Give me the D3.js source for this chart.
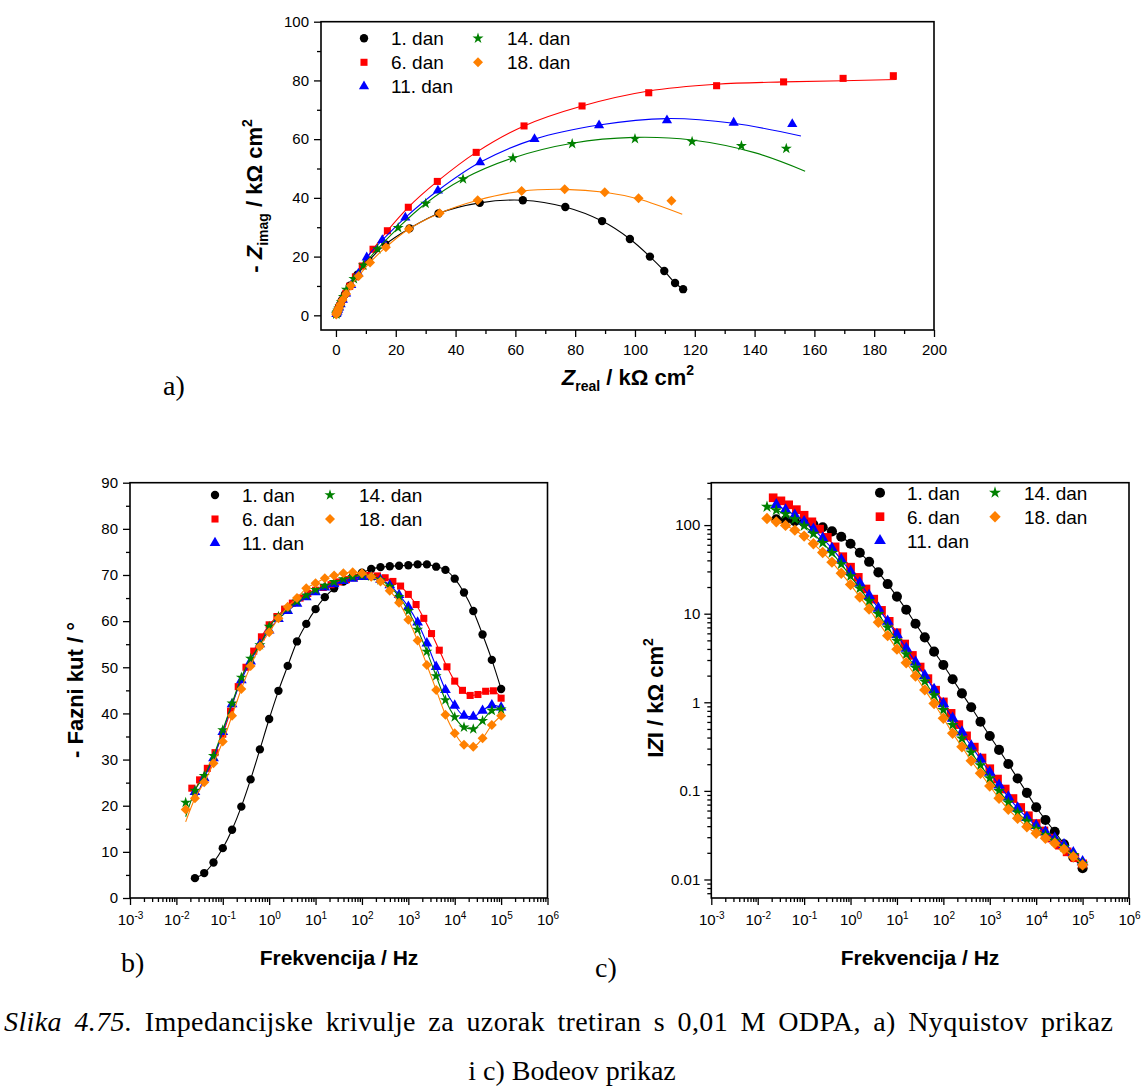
<!DOCTYPE html>
<html><head><meta charset="utf-8">
<script src="https://cdn.jsdelivr.net/npm/d3@7"></script>
<style>body{margin:0;background:#fff}</style>
</head><body><svg id="c" width="1141" height="1091" style="display:block;background:#fff"></svg>
<script>
// ---------- series ----------
const dayLabels = ["1. dan","6. dan","11. dan","14. dan","18. dan"];
const dayColors = ["#000000","#ff0000","#0000ff","#008000","#ff8000"];
const daySymbols = ["circle","square","triangle","star","diamond"];

// ---------- a) Nyquist: markers [Z_real, -Z_imag] (kΩ cm²) ----------
const nyq1 = [[0.13,0.40],[0.19,0.57],[0.27,0.84],[0.40,1.19],[0.58,1.72],[0.88,2.49],[1.29,3.50],[1.97,5.04],[3.0,7.09],[4.65,10.08],[7.18,13.85],[11.0,18.6],[16.55,24.18],[24.6,29.6],[34.3,34.7],[48.1,38.3],[62.5,39.2],[76.7,36.9],[89.0,32.1],[98.3,26.0],[105.0,20.0],[109.8,15.1],[113.4,11.0],[116.1,8.9]];
const nyq6 = [[0.18,0.5],[0.25,0.7],[0.35,0.95],[0.48,1.28],[0.66,1.73],[0.92,2.33],[1.27,3.13],[1.75,4.2],[2.41,5.6],[3.33,7.5],[4.6,9.9],[6.5,13.1],[8.8,16.8],[12.4,22.5],[17.2,28.8],[24.2,36.8],[33.9,45.6],[46.9,55.5],[62.9,64.5],[82.3,71.3],[104.6,75.8],[127.3,78.2],[149.7,79.5],[169.6,80.7],[186.4,81.6]];
const nyq11 = [[0.15,0.4],[0.33,0.9],[0.49,1.3],[0.72,1.86],[1.06,2.65],[1.56,3.74],[2.3,5.3],[3.4,7.4],[5.1,10.3],[7.5,14.2],[10.3,19.7],[15.5,25.6],[23.2,33.3],[34.1,42.5],[48.2,52.1],[66.4,60.0],[88.0,64.7],[110.7,66.4],[133.0,65.6],[152.6,65.1]];
const nyq14 = [[0.12,0.35],[0.28,0.77],[0.42,1.13],[0.62,1.61],[0.9,2.29],[1.32,3.22],[1.8,4.5],[2.5,6.3],[3.5,8.8],[6.0,12.4],[9.2,17.0],[13.9,22.6],[20.8,29.8],[30.0,38.1],[42.5,46.4],[59.2,53.6],[79.0,58.4],[100.0,60.1],[119.1,59.2],[135.6,57.7],[150.6,56.8]];
const nyq18 = [[0.1,0.3],[0.22,0.62],[0.32,0.91],[0.46,1.3],[0.68,1.86],[0.99,2.62],[1.48,3.7],[2.2,5.2],[3.4,7.25],[5.0,10.1],[7.6,13.4],[11.4,18.0],[16.7,23.2],[24.4,29.4],[34.7,34.8],[47.4,39.2],[62.1,42.3],[76.5,42.9],[89.9,41.9],[101.2,39.9],[112.2,39.0]];
// fitted-curve tails (low-frequency end of the fit lines)
const nyqFit1 = [[116.1,8.9]];
const nyqFit6 = [[104.6,76.4],[127.3,78.7],[149.7,79.5],[169.6,79.9],[187.5,80.3]];
const nyqFit11 = [[88.0,64.8],[110.7,67.0],[133.0,65.4],[155.5,61.1]];
const nyqFit14 = [[79.0,58.6],[99.6,60.6],[119.1,59.7],[140.0,55.4],[156.9,49.1]];
const nyqFit18 = [[76.5,42.9],[89.9,41.9],[101.2,39.6],[115.8,34.4]];
const nyqTicksX = [0,20,40,60,80,100,120,140,160,180,200];
const nyqMinorX = [10,30,50,70,90,110,130,150,170,190];
const nyqTicksY = [0,20,40,60,80,100];
const nyqMinorY = [10,30,50,70,90];

// ---------- b), c) Bode: log10(f / Hz) at which points were read ----------
const logF1 = [-1.6,-1.4,-1.2,-1.0,-0.8,-0.6,-0.4,-0.2,0,0.2,0.4,0.6,0.8,1.0,1.2,1.4,1.6,1.8,2.0,2.2,2.4,2.6,2.8,3.0,3.2,3.4,3.6,3.8,4.0,4.2,4.4,4.6,4.8,5.0];
const logF6 = [-1.667,-1.5,-1.333,-1.167,-1.0,-0.833,-0.667,-0.5,-0.333,-0.167,0,0.167,0.333,0.5,0.667,0.833,1.0,1.167,1.333,1.5,1.667,1.833,2.0,2.167,2.333,2.5,2.667,2.833,3.0,3.167,3.333,3.5,3.667,3.833,4.0,4.167,4.333,4.5,4.667,4.833,5.0];
const logF11 = [-1.6,-1.4,-1.2,-1.0,-0.8,-0.6,-0.4,-0.2,0,0.2,0.4,0.6,0.8,1.0,1.2,1.4,1.6,1.8,2.0,2.2,2.4,2.6,2.8,3.0,3.2,3.4,3.6,3.8,4.0,4.2,4.4,4.6,4.8,5.0];
const logF14 = [-1.8,-1.6,-1.4,-1.2,-1.0,-0.8,-0.6,-0.4,-0.2,0,0.2,0.4,0.6,0.8,1.0,1.2,1.4,1.6,1.8,2.0,2.2,2.4,2.6,2.8,3.0,3.2,3.4,3.6,3.8,4.0,4.2,4.4,4.6,4.8,5.0];
const logF18 = [-1.8,-1.6,-1.4,-1.2,-1.0,-0.8,-0.6,-0.4,-0.2,0,0.2,0.4,0.6,0.8,1.0,1.2,1.4,1.6,1.8,2.0,2.2,2.4,2.6,2.8,3.0,3.2,3.4,3.6,3.8,4.0,4.2,4.4,4.6,4.8,5.0];

// - phase angle (°)
const phase1 = [4.3,5.4,7.7,10.8,14.8,19.8,25.7,32.2,38.8,44.9,50.3,55.6,59.4,62.6,65.2,67.1,68.6,69.7,70.5,71.3,71.7,71.9,72.0,72.1,72.3,72.3,71.8,71.1,69.2,66.2,62.2,57.1,51.6,45.3];
const phase6 = [23.8,25.6,28.1,31.5,35.5,40.5,45.8,50.0,53.5,56.6,59.2,61.0,62.6,63.9,65.0,66.0,66.7,67.3,67.9,68.5,69.0,69.4,69.7,69.9,69.8,69.4,68.6,67.6,65.8,63.6,60.6,57.3,53.7,50.1,47.0,45.0,43.9,44.1,44.8,44.9,43.3];
const phase11 = [23.0,26.0,30.3,36.0,42.0,47.2,51.3,55.0,58.0,60.5,62.2,63.8,65.2,66.3,67.3,68.0,68.7,69.2,69.6,69.6,69.0,67.8,65.7,63.1,59.7,55.2,50.1,45.1,41.7,39.5,39.3,40.6,41.8,41.3];
const phase14 = [20.7,23.3,26.5,30.8,36.4,42.2,47.8,51.9,54.8,58.8,61.0,62.8,64.3,65.6,66.8,67.7,68.5,69.1,69.6,69.9,69.7,68.9,67.5,65.3,62.2,58.2,53.4,48.1,42.9,39.2,37.0,36.6,38.4,40.6,40.9];
const phase18 = [19.2,21.6,25.1,29.2,33.9,39.5,45.3,50.3,54.5,57.6,60.6,63.1,65.0,67.1,68.2,69.3,69.9,70.4,70.6,70.4,69.6,68.6,66.6,64.0,60.3,55.8,50.5,45.1,39.7,35.7,33.2,32.8,34.6,37.5,39.5];
// value of the fitted line at the lowest frequency
const phaseFitStart = [4.3,21.0,21.0,17.6,16.5];
const phaseTicksY = [0,10,20,30,40,50,60,70,80,90];
const phaseMinorY = [5,15,25,35,45,55,65,75,85];

// |Z| (kΩ cm²)
const zmod1 = [116.4,113.9,110.8,106.9,101.7,94.6,85.0,73.8,61.5,48.8,38.5,29.3,21.6,15.6,11.1,7.7,5.41,3.73,2.64,1.82,1.26,0.879,0.604,0.417,0.290,0.201,0.138,0.095,0.0653,0.047,0.0346,0.025,0.0178,0.0134];
const zmod6 = [203.5,187.8,169.5,149.4,129.2,108.9,90.1,72.7,56.8,44.0,33.5,25.7,19.0,14.6,10.9,8.2,6.1,4.55,3.38,2.50,1.85,1.37,1.01,0.75,0.56,0.418,0.312,0.235,0.178,0.136,0.105,0.082,0.065,0.0524,0.0428,0.0353,0.0293,0.0244,0.0205,0.0176,0.0150];
const zmod11 = [170,148.3,129.1,109.2,89.5,71.0,54.5,40.6,29.9,22.2,16.0,11.5,8.2,5.8,4.05,2.85,2.0,1.39,0.96,0.66,0.46,0.32,0.228,0.162,0.116,0.085,0.064,0.050,0.0405,0.0342,0.0292,0.0246,0.0200,0.0158];
const zmod14 = [161,147.4,133,116.7,98.2,79.9,62.9,48.5,36.3,26.5,19.3,13.9,9.9,7.0,4.95,3.48,2.46,1.72,1.20,0.82,0.555,0.39,0.272,0.195,0.139,0.100,0.074,0.057,0.0455,0.0372,0.0318,0.0274,0.0232,0.0189,0.0151];
const zmod18 = [118.8,108.8,99.2,87.7,75.1,61.5,49.1,38.2,28.6,21.3,15.4,11.3,8.0,5.65,3.98,2.80,1.98,1.38,0.97,0.66,0.447,0.315,0.219,0.158,0.1135,0.0825,0.0619,0.049,0.0394,0.0332,0.0292,0.0256,0.0219,0.0181,0.0146];
const zTicksY = [0.01,0.1,1,10,100];
const zTickLabelsY = ["0.01","0.1","1","10","100"];
const freqTicks = [1e-3,1e-2,1e-1,1e0,1e1,1e2,1e3,1e4,1e5,1e6];

// ---------- helpers ----------
const FONT = "'Liberation Sans', Arial, Helvetica, sans-serif";
const SERIF = "'Liberation Serif', 'Times New Roman', serif";
const svg = d3.select("#c");

const nyqSets = [nyq1,nyq6,nyq11,nyq14,nyq18];
const nyqFits = [nyqFit1,nyqFit6,nyqFit11,nyqFit14,nyqFit18];
const logFs = [logF1,logF6,logF11,logF14,logF18];
const phases = [phase1,phase6,phase11,phase14,phase18];
const zmods = [zmod1,zmod6,zmod11,zmod14,zmod18];

function symPath(i, size){
  const t = {circle:d3.symbolCircle,square:d3.symbolSquare,triangle:d3.symbolTriangle,star:d3.symbolStar,diamond:d3.symbolSquare}[daySymbols[i]];
  return d3.symbol(t, size)();
}
function symRot(i){ return daySymbols[i]==="diamond" ? " rotate(45)" : ""; }

function styleAxis(sel, fs){
  sel.select(".domain").remove();
  sel.selectAll("line").attr("stroke","#000").attr("stroke-width",1.3);
  sel.selectAll("text").attr("font-family",FONT).attr("font-size",fs||15).attr("fill","#000");
}
function frame(g, x0, x1, y0, y1){
  g.append("rect").attr("x",x0).attr("y",y0).attr("width",x1-x0).attr("height",y1-y0)
    .attr("fill","none").attr("stroke","#000").attr("stroke-width",1.6);
}
function drawMarkers(g, pts, i, size){
  g.append("g").selectAll("path").data(pts).join("path")
    .attr("d", symPath(i,size))
    .attr("transform", d=>`translate(${d[0]},${d[1]})${symRot(i)}`)
    .attr("fill", dayColors[i]);
}
function drawLine(g, pts, i, curve){
  g.append("path").datum(pts)
    .attr("d", d3.line().x(d=>d[0]).y(d=>d[1]).curve(curve||d3.curveMonotoneX))
    .attr("fill","none").attr("stroke",dayColors[i]).attr("stroke-width",1.1);
}
function legend(g, x1, tx1, x2, tx2, rows, sizes){
  const pos = [[x1,tx1,rows[0]],[x1,tx1,rows[1]],[x1,tx1,rows[2]],[x2,tx2,rows[0]],[x2,tx2,rows[1]]];
  dayLabels.forEach((lab,i)=>{
    const [sx,tx,y] = pos[i];
    g.append("path").attr("d",symPath(i,sizes[i])).attr("transform",`translate(${sx},${y})${symRot(i)}`).attr("fill",dayColors[i]);
    g.append("text").attr("x",tx).attr("y",y+7).attr("font-family",FONT).attr("font-size",19).attr("fill","#000").text(lab);
  });
}
function powerLabels(sel){
  sel.selectAll(".tick text").each(function(d){
    const e = Math.round(Math.log10(d));
    const t = d3.select(this); t.text(null);
    t.append("tspan").text("10");
    t.append("tspan").attr("dy","-0.55em").attr("font-size",10).text(String(e));
  });
}

// ================= a) Nyquist =================
const xA = d3.scaleLinear().domain([-5,200]).range([321,934]);
const yA = d3.scaleLinear().domain([-5,100]).range([330,21.7]);
const gA = svg.append("g");
gA.append("g").attr("transform","translate(0,330)").call(d3.axisBottom(xA).tickValues(nyqTicksX).tickSize(7).tickPadding(7)).call(styleAxis);
gA.append("g").attr("transform","translate(0,330)").call(d3.axisBottom(xA).tickValues(nyqMinorX).tickSize(4).tickFormat("")).call(styleAxis);
gA.append("g").attr("transform","translate(321,0)").call(d3.axisLeft(yA).tickValues(nyqTicksY).tickSize(7).tickPadding(5)).call(styleAxis);
gA.append("g").attr("transform","translate(321,0)").call(d3.axisLeft(yA).tickValues(nyqMinorY).tickSize(4).tickFormat("")).call(styleAxis);
const nyqSizes = [55,50,45,38,50];
nyqSets.forEach((pts,i)=>{
  const fit = nyqFits[i];
  const linePts = pts.filter(p=>p[0] < fit[0][0]).concat(fit).map(p=>[xA(p[0]),yA(p[1])]);
  drawLine(gA, linePts, i, d3.curveCatmullRom.alpha(0.5));
  drawMarkers(gA, pts.map(p=>[xA(p[0]),yA(p[1])]), i, nyqSizes[i]);
});
frame(gA, 321, 934, 21.7, 330);
legend(gA, 364, 391, 478, 507, [38.3,62.3,86.3], nyqSizes);
// titles
const tA = gA.append("text").attr("x",628).attr("y",385).attr("text-anchor","middle")
  .attr("font-family",FONT).attr("font-size",22).attr("font-weight","bold");
tA.append("tspan").attr("font-style","italic").text("Z");
tA.append("tspan").attr("font-size",14).attr("dy",6).text("real");
tA.append("tspan").attr("dy",-6).text(" / kΩ cm");
tA.append("tspan").attr("font-size",14).attr("dy",-10).text("2");
const tAy = gA.append("text").attr("transform","translate(262,196) rotate(-90)").attr("text-anchor","middle")
  .attr("font-family",FONT).attr("font-size",22).attr("font-weight","bold");
tAy.append("tspan").text("- ");
tAy.append("tspan").attr("font-style","italic").text("Z");
tAy.append("tspan").attr("font-size",14).attr("dy",6).text("imag");
tAy.append("tspan").attr("dy",-6).text(" / kΩ cm");
tAy.append("tspan").attr("font-size",14).attr("dy",-10).text("2");
svg.append("text").attr("x",163).attr("y",395).attr("font-family",SERIF).attr("font-size",28).text("a)");

// ================= b) phase =================
const xB = d3.scaleLog().domain([1e-3,1e6]).range([130,547.5]);
const yB = d3.scaleLinear().domain([0,90]).range([898,482.7]);
const gB = svg.append("g");
const minorB = xB.ticks().filter(v=>Math.abs(Math.log10(v)-Math.round(Math.log10(v)))>1e-6);
gB.append("g").attr("transform","translate(0,898)").call(d3.axisBottom(xB).tickValues(freqTicks).tickSize(7).tickPadding(9)).call(styleAxis).call(powerLabels);
gB.append("g").attr("transform","translate(0,898)").call(d3.axisBottom(xB).tickValues(minorB).tickSize(4).tickFormat("")).call(styleAxis);
gB.append("g").attr("transform","translate(130,0)").call(d3.axisLeft(yB).tickValues(phaseTicksY).tickSize(7).tickPadding(5)).call(styleAxis);
gB.append("g").attr("transform","translate(130,0)").call(d3.axisLeft(yB).tickValues(phaseMinorY).tickSize(4).tickFormat("")).call(styleAxis);
const phSizes = [55,50,50,38,50];
phases.forEach((ph,i)=>{
  const lf = logFs[i];
  const pts = ph.map((v,k)=>[xB(Math.pow(10,lf[k])), yB(v)]);
  const linePts = ph.map((v,k)=>[xB(Math.pow(10,lf[k])), yB(k===0 ? phaseFitStart[i] : v)]);
  drawLine(gB, linePts, i);
  drawMarkers(gB, pts, i, phSizes[i]);
});
frame(gB, 130, 547.5, 482.7, 898);
legend(gB, 215, 242, 330, 359, [495,519,543], phSizes);
gB.append("text").attr("x",339).attr("y",965).attr("text-anchor","middle").attr("font-family",FONT)
  .attr("font-size",21).attr("font-weight","bold").text("Frekvencija / Hz");
gB.append("text").attr("transform","translate(83,690) rotate(-90)").attr("text-anchor","middle").attr("font-family",FONT)
  .attr("font-size",22).attr("font-weight","bold").text("- Fazni kut / °");
svg.append("text").attr("x",121).attr("y",972).attr("font-family",SERIF).attr("font-size",28).text("b)");

// ================= c) |Z| =================
const xC = d3.scaleLog().domain([1e-3,1e6]).range([711.3,1129]);
const yC = d3.scaleLog().domain([0.00618,301]).range([898,482.7]);
const gC = svg.append("g");
const minorC = xC.ticks().filter(v=>Math.abs(Math.log10(v)-Math.round(Math.log10(v)))>1e-6);
const minorCy = yC.ticks().filter(v=>Math.abs(Math.log10(v)-Math.round(Math.log10(v)))>1e-6);
gC.append("g").attr("transform","translate(0,898)").call(d3.axisBottom(xC).tickValues(freqTicks).tickSize(7).tickPadding(9)).call(styleAxis).call(powerLabels);
gC.append("g").attr("transform","translate(0,898)").call(d3.axisBottom(xC).tickValues(minorC).tickSize(4).tickFormat("")).call(styleAxis);
gC.append("g").attr("transform","translate(711.3,0)").call(d3.axisLeft(yC).tickValues(zTicksY).tickSize(7).tickPadding(4).tickFormat((d,k)=>zTickLabelsY[k])).call(styleAxis);
gC.append("g").attr("transform","translate(711.3,0)").call(d3.axisLeft(yC).tickValues(minorCy).tickSize(4).tickFormat("")).call(styleAxis);
const zSizes = [80,75,60,45,65];
zmods.forEach((zm,i)=>{
  const lf = logFs[i];
  const pts = zm.map((v,k)=>[xC(Math.pow(10,lf[k])), yC(v)]);
  drawLine(gC, pts, i);
  drawMarkers(gC, pts, i, zSizes[i]);
});
frame(gC, 711.3, 1129, 482.7, 898);
legend(gC, 880, 907, 995, 1024, [492.7,516.7,540.7], zSizes);
gC.append("text").attr("x",920).attr("y",965).attr("text-anchor","middle").attr("font-family",FONT)
  .attr("font-size",21).attr("font-weight","bold").text("Frekvencija / Hz");
const tCy = gC.append("text").attr("transform","translate(663,698) rotate(-90)").attr("text-anchor","middle")
  .attr("font-family",FONT).attr("font-size",22).attr("font-weight","bold");
tCy.append("tspan").text("I");
tCy.append("tspan").attr("font-style","italic").text("Z");
tCy.append("tspan").text("I / kΩ cm");
tCy.append("tspan").attr("font-size",14).attr("dy",-10).text("2");
svg.append("text").attr("x",595).attr("y",977).attr("font-family",SERIF).attr("font-size",28).text("c)");

// ================= caption =================
const cap1 = svg.append("text").attr("x",4).attr("y",1031).attr("text-anchor","start")
  .attr("font-family",SERIF).attr("font-size",28).attr("fill","#000")
  .style("word-spacing","5px").style("letter-spacing","0.4px");
cap1.append("tspan").attr("font-style","italic").text("Slika 4.75.");
cap1.append("tspan").text(" Impedancijske krivulje za uzorak tretiran s 0,01 M ODPA, a) Nyquistov prikaz");
svg.append("text").attr("x",572).attr("y",1080).attr("text-anchor","middle")
  .attr("font-family",SERIF).attr("font-size",28).attr("fill","#000").text("i c) Bodeov prikaz");
</script></body></html>
